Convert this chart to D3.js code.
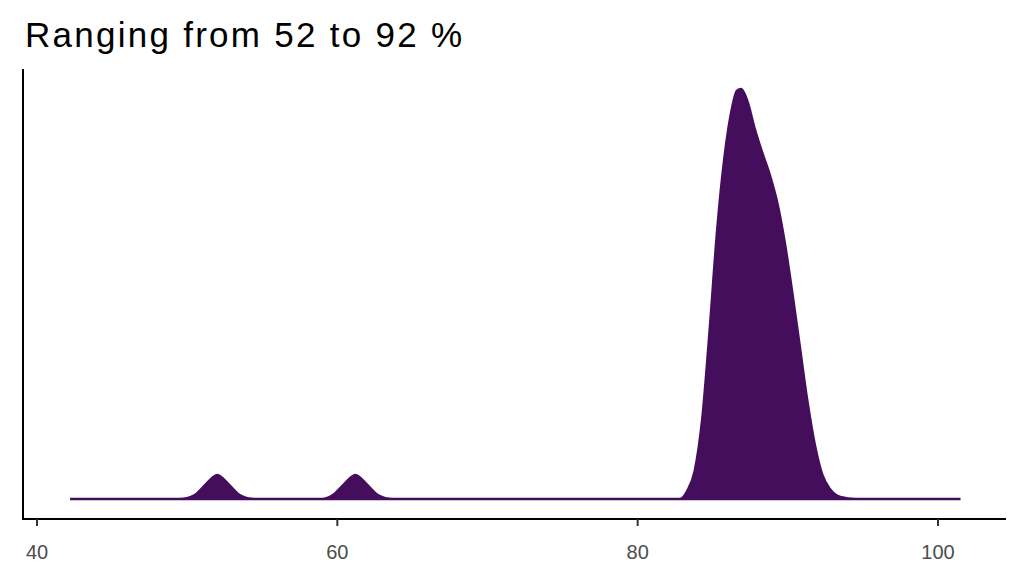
<!DOCTYPE html>
<html><head><meta charset="utf-8">
<script src="https://cdn.jsdelivr.net/npm/d3@7"></script>
<style>body{margin:0;background:#fff}</style></head>
<body><svg id="c" width="1024" height="576"></svg>
<script>
const xVals=[42.2,49.5,50.5,51.2,52,52.8,53.5,54.5,59,59.7,60.4,61.2,62,62.7,63.7,82.8,83.3,83.8,84.3,84.8,85.3,85.8,86.3,86.6,86.9,87.3,87.8,88.3,88.8,89.3,89.8,90.3,90.8,91.3,91.8,92.3,92.8,93.5,94.5,101.5];
const density=[0,0,0.002,0.007,0.012,0.007,0.002,0,0,0.002,0.007,0.012,0.007,0.002,0,0,0.004,0.014,0.04,0.085,0.135,0.172,0.196,0.204,0.205,0.199,0.185,0.173,0.162,0.148,0.128,0.103,0.076,0.049,0.027,0.012,0.005,0.001,0,0];
const xTicks=[40,60,80,100];
const title="Ranging from 52 to 92 %";
const svg=d3.select("#c");
const x=d3.scaleLinear().domain([40,100]).range([37,938]);
const y=d3.scaleLinear().domain([0,0.215]).range([499,69]);
const pts=xVals.map((v,i)=>[v,density[i]]);
svg.append("path").datum(pts)
 .attr("d",d3.area().x(d=>x(d[0])).y0(y(0)).y1(d=>y(d[1])).curve(d3.curveMonotoneX))
 .attr("fill","#450e5c").attr("stroke","#450e5c").attr("stroke-width",2.5);
svg.append("line").attr("x1",23).attr("x2",1006).attr("y1",519).attr("y2",519).attr("stroke","#000").attr("stroke-width",2);
svg.append("line").attr("x1",23).attr("x2",23).attr("y1",69).attr("y2",520).attr("stroke","#000").attr("stroke-width",2);
xTicks.forEach(t=>{
 svg.append("line").attr("x1",x(t)).attr("x2",x(t)).attr("y1",519).attr("y2",526).attr("stroke","#333").attr("stroke-width",2);
 svg.append("text").attr("x",x(t)).attr("y",559).attr("text-anchor","middle").attr("font-family","Liberation Sans, Arial, sans-serif").attr("font-size",20).attr("fill","#4d4d4d").text(t);
});
svg.append("text").attr("x",25).attr("y",47).attr("font-family","Liberation Sans, Arial, sans-serif").attr("font-size",35).attr("textLength",437).attr("fill","#000").text(title);
</script></body></html>
